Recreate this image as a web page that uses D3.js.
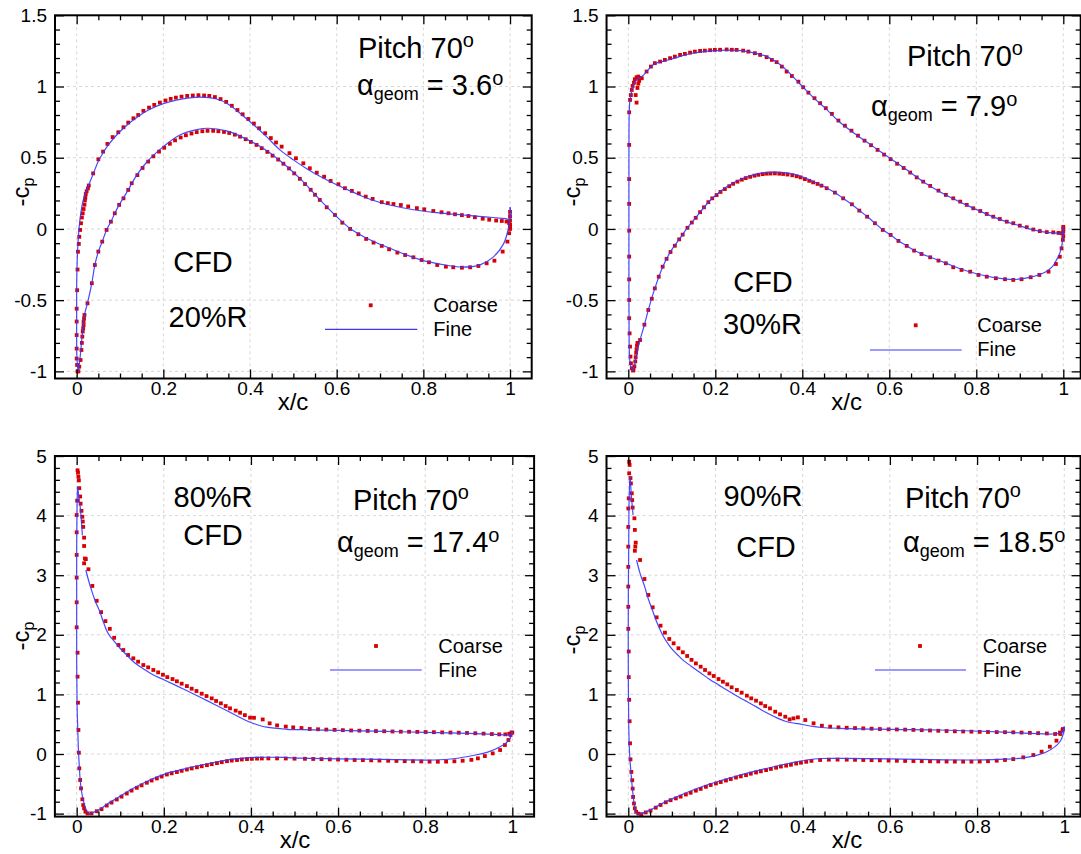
<!DOCTYPE html>
<html><head><meta charset="utf-8">
<script src="https://cdn.jsdelivr.net/npm/d3@7"></script>
<style>
body{margin:0;background:#fff}
svg{display:block}
text{font-family:"Liberation Sans",Arial,Helvetica,sans-serif;fill:#000;white-space:pre}
</style>
</head><body>
<svg id="chart" width="1081" height="854"></svg>
<script>
// ---------- tick values / labels ----------
const xMajorTicks = [0, 0.2, 0.4, 0.6, 0.8, 1];
const yMajorTop = [-1, -0.5, 0, 0.5, 1, 1.5];
const yMajorBottom = [-1, 0, 1, 2, 3, 4, 5];
const radiusLabels = ["20%R", "30%R", "80%R", "90%R"];
const pitchLabel = "Pitch 70";
const alphaValues = ["3.6", "7.9", "17.4", "18.5"];
const seriesNames = ["Coarse", "Fine"];

// ---------- Panel 1 : 20%R ----------
const p1FineUpper = [[0.004,-1.0],[0.001,-0.93],[0.0,-0.8],[0.0,-0.6],[0.0,-0.4],[0.001,-0.25],[0.003,-0.1],[0.006,0.02],[0.01,0.12],[0.015,0.2],[0.021,0.255],[0.028,0.31],[0.038,0.385],[0.05,0.475],[0.061,0.535],[0.073,0.59],[0.096,0.672],[0.119,0.737],[0.142,0.79],[0.169,0.84],[0.2,0.88],[0.23,0.905],[0.26,0.92],[0.285,0.925],[0.31,0.92],[0.33,0.905],[0.346,0.883],[0.36,0.855],[0.377,0.812],[0.408,0.732],[0.438,0.648],[0.469,0.555],[0.5,0.485],[0.53,0.425],[0.56,0.372],[0.6,0.31],[0.64,0.255],[0.68,0.205],[0.72,0.17],[0.777,0.135],[0.83,0.115],[0.892,0.098],[0.95,0.083],[0.99,0.072],[1.0,0.07],[1.0,0.155]];
const p1FineLower = [[0.004,-1.0],[0.008,-0.9],[0.014,-0.71],[0.019,-0.59],[0.025,-0.52],[0.035,-0.38],[0.042,-0.253],[0.05,-0.16],[0.059,-0.089],[0.069,-0.007],[0.079,0.051],[0.088,0.11],[0.098,0.169],[0.108,0.218],[0.119,0.274],[0.135,0.36],[0.162,0.47],[0.2,0.578],[0.238,0.66],[0.277,0.697],[0.304,0.707],[0.346,0.688],[0.377,0.652],[0.423,0.58],[0.465,0.49],[0.515,0.355],[0.561,0.206],[0.596,0.098],[0.631,0.003],[0.669,-0.065],[0.723,-0.136],[0.792,-0.215],[0.854,-0.255],[0.889,-0.268],[0.931,-0.252],[0.961,-0.198],[0.985,-0.105],[0.996,0.0],[1.0,0.075],[1.0,0.15]];
const p1CoarseUpper = [[0.002,-1.0],[0.001,-0.955],[0.0,-0.91],[0.0,-0.84],[0.0,-0.745],[0.0,-0.65],[0.0,-0.56],[0.001,-0.43],[0.002,-0.285],[0.003,-0.16],[0.005,-0.105],[0.006,-0.055],[0.008,-0.007],[0.01,0.04],[0.012,0.08],[0.014,0.11],[0.016,0.14],[0.018,0.17],[0.019,0.2],[0.02,0.22],[0.021,0.245],[0.023,0.265],[0.026,0.285],[0.028,0.305],[0.038,0.39],[0.05,0.489],[0.061,0.543],[0.071,0.597],[0.083,0.645],[0.096,0.679],[0.108,0.714],[0.119,0.747],[0.131,0.777],[0.142,0.8],[0.154,0.829],[0.167,0.852],[0.179,0.871],[0.192,0.887],[0.205,0.902],[0.217,0.913],[0.229,0.922],[0.242,0.929],[0.255,0.934],[0.268,0.937],[0.281,0.939],[0.294,0.937],[0.306,0.934],[0.319,0.926],[0.332,0.912],[0.345,0.892],[0.358,0.865],[0.371,0.835],[0.383,0.805],[0.396,0.772],[0.409,0.74],[0.421,0.707],[0.435,0.672],[0.448,0.638],[0.46,0.607],[0.473,0.578],[0.491,0.532],[0.506,0.496],[0.523,0.461],[0.538,0.426],[0.554,0.395],[0.571,0.367],[0.586,0.337],[0.604,0.314],[0.619,0.286],[0.635,0.267],[0.651,0.25],[0.667,0.227],[0.683,0.211],[0.704,0.188],[0.718,0.181],[0.731,0.175],[0.748,0.168],[0.765,0.158],[0.785,0.146],[0.802,0.138],[0.823,0.126],[0.842,0.117],[0.858,0.11],[0.873,0.103],[0.889,0.097],[0.904,0.091],[0.919,0.082],[0.937,0.072],[0.952,0.065],[0.968,0.059],[0.981,0.056],[0.992,0.052],[0.998,0.04],[1.0,0.03],[1.0,0.015],[1.0,0.0],[1.0,0.06],[1.0,0.09],[1.0,0.12]];
const p1CoarseLower = [[0.004,-1.0],[0.006,-0.967],[0.009,-0.92],[0.011,-0.85],[0.012,-0.8],[0.013,-0.756],[0.014,-0.72],[0.015,-0.698],[0.016,-0.675],[0.016,-0.651],[0.017,-0.628],[0.018,-0.604],[0.025,-0.522],[0.035,-0.381],[0.042,-0.253],[0.05,-0.159],[0.059,-0.089],[0.069,-0.007],[0.079,0.051],[0.088,0.11],[0.098,0.169],[0.108,0.215],[0.119,0.274],[0.127,0.321],[0.14,0.378],[0.152,0.428],[0.165,0.473],[0.177,0.51],[0.19,0.543],[0.202,0.57],[0.215,0.598],[0.227,0.622],[0.24,0.642],[0.252,0.658],[0.265,0.67],[0.277,0.68],[0.29,0.686],[0.302,0.689],[0.315,0.689],[0.327,0.686],[0.34,0.681],[0.352,0.674],[0.365,0.662],[0.377,0.648],[0.39,0.63],[0.402,0.611],[0.415,0.59],[0.427,0.567],[0.44,0.541],[0.452,0.515],[0.465,0.487],[0.477,0.458],[0.49,0.425],[0.502,0.39],[0.515,0.352],[0.527,0.315],[0.54,0.275],[0.55,0.24],[0.561,0.204],[0.577,0.152],[0.596,0.098],[0.613,0.044],[0.631,0.0],[0.65,-0.037],[0.668,-0.07],[0.685,-0.096],[0.704,-0.119],[0.721,-0.143],[0.74,-0.166],[0.758,-0.183],[0.777,-0.199],[0.796,-0.218],[0.813,-0.234],[0.832,-0.253],[0.852,-0.265],[0.869,-0.269],[0.889,-0.272],[0.908,-0.269],[0.927,-0.26],[0.946,-0.241],[0.964,-0.223],[0.983,-0.159],[0.994,-0.089],[0.998,-0.03],[1.0,0.028]];

// ---------- Panel 2 : 30%R ----------
const p2FineUpper = [[0.01,-0.995],[0.005,-0.96],[0.003,-0.9],[0.002,-0.8],[0.0015,-0.5],[0.0015,0.0],[0.0015,0.5],[0.002,0.8],[0.003,0.88],[0.005,0.93],[0.008,0.97],[0.012,1.01],[0.017,1.04],[0.025,1.06],[0.035,1.08],[0.042,1.105],[0.052,1.138],[0.061,1.16],[0.073,1.172],[0.096,1.19],[0.119,1.212],[0.142,1.23],[0.165,1.242],[0.188,1.25],[0.211,1.254],[0.238,1.255],[0.264,1.25],[0.291,1.235],[0.318,1.21],[0.341,1.172],[0.364,1.115],[0.383,1.055],[0.402,0.995],[0.428,0.915],[0.454,0.845],[0.483,0.758],[0.52,0.67],[0.56,0.585],[0.6,0.5],[0.64,0.415],[0.678,0.332],[0.713,0.267],[0.747,0.212],[0.778,0.167],[0.809,0.124],[0.839,0.085],[0.87,0.05],[0.9,0.022],[0.931,-0.006],[0.962,-0.024],[0.989,-0.03],[1.0,-0.03],[1.0,0.02]];
const p2FineLower = [[0.01,-0.995],[0.014,-0.96],[0.018,-0.9],[0.022,-0.84],[0.027,-0.78],[0.038,-0.662],[0.046,-0.569],[0.061,-0.417],[0.08,-0.26],[0.1,-0.145],[0.119,-0.065],[0.134,0.0],[0.157,0.086],[0.188,0.2],[0.218,0.278],[0.241,0.322],[0.272,0.365],[0.303,0.39],[0.333,0.399],[0.364,0.394],[0.395,0.372],[0.425,0.333],[0.456,0.288],[0.475,0.255],[0.494,0.215],[0.514,0.172],[0.531,0.13],[0.549,0.087],[0.567,0.041],[0.585,-0.005],[0.603,-0.042],[0.621,-0.083],[0.64,-0.118],[0.657,-0.15],[0.674,-0.175],[0.694,-0.198],[0.713,-0.22],[0.73,-0.24],[0.766,-0.283],[0.805,-0.318],[0.845,-0.343],[0.885,-0.355],[0.925,-0.338],[0.96,-0.3],[0.975,-0.265],[0.984,-0.22],[0.992,-0.17],[0.997,-0.11],[1.0,-0.01]];
const p2CoarseUpper = [[0.011,-0.994],[0.008,-0.978],[0.006,-0.943],[0.005,-0.896],[0.004,-0.826],[0.003,-0.733],[0.002,-0.627],[0.002,-0.499],[0.002,-0.354],[0.002,-0.194],[0.002,-0.012],[0.002,0.176],[0.002,0.35],[0.002,0.59],[0.002,0.819],[0.004,0.906],[0.006,0.94],[0.008,0.976],[0.01,1.004],[0.013,1.027],[0.015,1.051],[0.019,1.065],[0.023,1.07],[0.019,0.887],[0.017,0.94],[0.021,0.99],[0.023,1.02],[0.025,1.04],[0.027,1.06],[0.031,1.058],[0.042,1.105],[0.052,1.14],[0.061,1.164],[0.073,1.175],[0.084,1.187],[0.096,1.199],[0.107,1.21],[0.119,1.222],[0.13,1.229],[0.142,1.238],[0.153,1.245],[0.165,1.25],[0.176,1.252],[0.188,1.255],[0.199,1.257],[0.211,1.258],[0.226,1.26],[0.238,1.258],[0.249,1.257],[0.264,1.252],[0.276,1.245],[0.291,1.234],[0.303,1.222],[0.318,1.206],[0.33,1.187],[0.341,1.171],[0.353,1.14],[0.364,1.105],[0.376,1.074],[0.391,1.034],[0.402,0.995],[0.414,0.957],[0.428,0.918],[0.441,0.883],[0.454,0.848],[0.468,0.808],[0.483,0.761],[0.498,0.725],[0.513,0.69],[0.528,0.655],[0.543,0.62],[0.558,0.588],[0.573,0.555],[0.588,0.522],[0.603,0.49],[0.618,0.458],[0.633,0.428],[0.648,0.396],[0.663,0.362],[0.678,0.332],[0.694,0.302],[0.713,0.269],[0.73,0.239],[0.747,0.215],[0.763,0.192],[0.778,0.169],[0.793,0.145],[0.809,0.126],[0.824,0.105],[0.839,0.086],[0.854,0.07],[0.87,0.051],[0.885,0.04],[0.9,0.023],[0.916,0.012],[0.931,-0.004],[0.946,-0.015],[0.962,-0.022],[0.977,-0.024],[0.989,-0.028],[0.997,-0.03],[1.0,-0.05],[1.0,-0.02],[1.0,0.0],[1.0,0.015]];
const p2CoarseLower = [[0.012,-0.99],[0.014,-0.965],[0.016,-0.93],[0.017,-0.9],[0.018,-0.87],[0.019,-0.845],[0.02,-0.82],[0.021,-0.8],[0.027,-0.78],[0.037,-0.672],[0.046,-0.569],[0.054,-0.49],[0.061,-0.417],[0.07,-0.335],[0.079,-0.265],[0.088,-0.21],[0.097,-0.162],[0.107,-0.118],[0.117,-0.073],[0.125,-0.04],[0.136,0.008],[0.146,0.045],[0.155,0.078],[0.165,0.118],[0.174,0.152],[0.184,0.188],[0.193,0.215],[0.203,0.238],[0.212,0.26],[0.222,0.28],[0.232,0.3],[0.241,0.317],[0.251,0.332],[0.261,0.346],[0.27,0.357],[0.28,0.366],[0.29,0.374],[0.299,0.38],[0.309,0.385],[0.318,0.388],[0.327,0.389],[0.337,0.39],[0.347,0.388],[0.356,0.386],[0.366,0.382],[0.377,0.377],[0.387,0.37],[0.396,0.362],[0.406,0.35],[0.416,0.338],[0.425,0.327],[0.435,0.316],[0.444,0.304],[0.456,0.286],[0.475,0.255],[0.494,0.215],[0.514,0.173],[0.531,0.129],[0.549,0.086],[0.567,0.04],[0.585,-0.007],[0.603,-0.042],[0.621,-0.084],[0.64,-0.119],[0.657,-0.152],[0.674,-0.176],[0.694,-0.199],[0.713,-0.222],[0.73,-0.241],[0.747,-0.269],[0.766,-0.288],[0.786,-0.3],[0.805,-0.323],[0.824,-0.335],[0.845,-0.346],[0.866,-0.353],[0.885,-0.358],[0.904,-0.353],[0.925,-0.339],[0.945,-0.323],[0.966,-0.3],[0.983,-0.246],[0.992,-0.195],[0.996,-0.136],[0.999,-0.077]];

// ---------- Panel 3 : 80%R ----------
const p3FineUpper = [[0.002,4.485],[0.005,4.32],[0.008,4.15],[0.011,3.9],[0.013,3.67],null,[0.021,3.087],[0.027,2.92],[0.034,2.75],[0.043,2.56],[0.053,2.39],[0.061,2.22],[0.069,2.07],[0.076,1.98],[0.084,1.91],[0.1,1.77],[0.115,1.66],[0.133,1.53],[0.153,1.43],[0.175,1.33],[0.199,1.25],[0.245,1.09],[0.298,0.9],[0.352,0.7],[0.394,0.545],[0.405,0.515],[0.436,0.45],[0.482,0.415],[0.513,0.408],[0.6,0.395],[0.742,0.374],[0.9,0.345],[0.96,0.33],[0.987,0.32],[0.998,0.33],[1.0,0.37]];
const p3FineLower = [[0.002,4.485],[0.001,4.2],[0.0,3.5],[0.0,2.5],[0.0,1.5],[0.001,0.8],[0.003,0.3],[0.004,0.067],[0.006,-0.2],[0.008,-0.436],[0.011,-0.62],[0.015,-0.772],[0.019,-0.88],[0.024,-0.968],[0.029,-1.005],[0.035,-0.99],[0.053,-0.928],[0.07,-0.84],[0.092,-0.743],[0.13,-0.576],[0.168,-0.436],[0.207,-0.324],[0.253,-0.24],[0.298,-0.168],[0.344,-0.101],[0.39,-0.065],[0.421,-0.055],[0.474,-0.058],[0.513,-0.07],[0.6,-0.08],[0.7,-0.09],[0.82,-0.1],[0.87,-0.075],[0.91,-0.025],[0.945,0.035],[0.972,0.123],[0.988,0.2],[0.995,0.263],[1.0,0.374]];
const p3CoarseUpper = [[0.002,4.76],[0.003,4.72],[0.004,4.65],[0.005,4.59],[0.006,4.46],[0.008,4.32],[0.009,4.2],[0.011,4.08],[0.013,3.98],[0.014,3.9],[0.015,3.81],[0.017,3.63],[0.017,3.49],[0.019,3.28],[0.021,3.27],[0.017,3.2],[0.027,3.1],[0.036,2.82],[0.046,2.57],[0.056,2.38],[0.066,2.23],[0.076,2.1],[0.086,1.95],[0.096,1.829],[0.107,1.745],[0.118,1.661],[0.13,1.606],[0.141,1.549],[0.153,1.493],[0.164,1.454],[0.176,1.41],[0.187,1.37],[0.198,1.33],[0.208,1.29],[0.22,1.258],[0.23,1.22],[0.241,1.18],[0.253,1.14],[0.264,1.096],[0.275,1.057],[0.287,1.012],[0.298,0.973],[0.31,0.934],[0.32,0.89],[0.331,0.85],[0.342,0.805],[0.352,0.766],[0.365,0.728],[0.375,0.693],[0.386,0.652],[0.398,0.61],[0.407,0.608],[0.427,0.58],[0.443,0.515],[0.46,0.48],[0.48,0.46],[0.497,0.447],[0.516,0.436],[0.535,0.42],[0.554,0.415],[0.573,0.41],[0.592,0.405],[0.611,0.4],[0.63,0.395],[0.649,0.392],[0.668,0.388],[0.687,0.385],[0.706,0.382],[0.725,0.378],[0.744,0.375],[0.763,0.373],[0.782,0.371],[0.801,0.369],[0.82,0.366],[0.839,0.363],[0.858,0.36],[0.877,0.357],[0.896,0.353],[0.915,0.348],[0.934,0.342],[0.953,0.335],[0.97,0.33],[0.984,0.33],[0.993,0.34],[0.998,0.36]];
const p3CoarseLower = [[0.001,4.25],[0.0,4.01],[0.0,3.72],[0.0,3.34],[0.0,2.96],[0.0,2.545],[0.0,2.126],[0.002,1.7],[0.002,1.298],[0.003,0.861],[0.004,0.403],[0.005,0.022],[0.006,-0.24],[0.008,-0.436],[0.01,-0.576],[0.013,-0.76],[0.015,-0.856],[0.017,-0.911],[0.02,-0.968],[0.025,-0.996],[0.034,-0.996],[0.046,-0.96],[0.057,-0.925],[0.069,-0.865],[0.08,-0.815],[0.092,-0.763],[0.103,-0.715],[0.115,-0.663],[0.126,-0.614],[0.138,-0.567],[0.149,-0.526],[0.161,-0.482],[0.172,-0.445],[0.184,-0.41],[0.195,-0.378],[0.207,-0.344],[0.218,-0.324],[0.23,-0.302],[0.241,-0.282],[0.253,-0.26],[0.264,-0.242],[0.276,-0.223],[0.287,-0.205],[0.299,-0.187],[0.31,-0.17],[0.322,-0.153],[0.333,-0.137],[0.345,-0.12],[0.356,-0.11],[0.368,-0.101],[0.379,-0.092],[0.391,-0.085],[0.402,-0.081],[0.414,-0.077],[0.425,-0.075],[0.44,-0.074],[0.46,-0.074],[0.48,-0.075],[0.5,-0.078],[0.524,-0.08],[0.543,-0.083],[0.562,-0.086],[0.581,-0.09],[0.6,-0.093],[0.619,-0.096],[0.638,-0.1],[0.657,-0.103],[0.676,-0.106],[0.695,-0.11],[0.715,-0.113],[0.734,-0.116],[0.753,-0.12],[0.772,-0.122],[0.791,-0.125],[0.81,-0.128],[0.829,-0.129],[0.848,-0.127],[0.867,-0.122],[0.886,-0.113],[0.906,-0.098],[0.921,-0.073],[0.937,-0.034],[0.955,0.011],[0.972,0.067],[0.983,0.151],[0.991,0.235],[0.996,0.319],[1.0,0.36]];

// ---------- Panel 4 : 90%R ----------
const p4FineUpper = [[0.004,4.65],[0.006,4.45],[0.008,4.25],[0.011,4.01],null,[0.019,3.255],[0.027,3.03],[0.037,2.82],[0.046,2.6],[0.056,2.4],[0.065,2.22],[0.074,2.07],[0.084,1.93],[0.094,1.82],[0.104,1.73],[0.115,1.65],[0.125,1.58],[0.145,1.47],[0.166,1.36],[0.186,1.255],[0.207,1.16],[0.227,1.07],[0.249,0.975],[0.272,0.88],[0.293,0.795],[0.314,0.705],[0.337,0.62],[0.36,0.55],[0.378,0.52],[0.39,0.51],[0.417,0.47],[0.444,0.445],[0.486,0.431],[0.6,0.415],[0.715,0.403],[0.85,0.37],[0.975,0.336],[0.995,0.36],[1.0,0.459]];
const p4FineLower = [[0.004,4.65],[0.002,4.3],[0.001,3.5],[0.0,2.5],[0.0,1.5],[0.001,0.5],[0.003,0.0],[0.006,-0.3],[0.009,-0.55],[0.012,-0.75],[0.015,-0.9],[0.019,-1.0],[0.025,-1.01],[0.05,-0.94],[0.075,-0.84],[0.103,-0.744],[0.14,-0.63],[0.18,-0.52],[0.22,-0.43],[0.256,-0.352],[0.295,-0.28],[0.333,-0.213],[0.37,-0.155],[0.409,-0.1],[0.447,-0.075],[0.486,-0.072],[0.6,-0.08],[0.791,-0.1],[0.85,-0.09],[0.906,-0.065],[0.96,0.039],[0.99,0.206],[0.999,0.374],[1.0,0.46]];
const p4CoarseUpper = [[0.002,4.905],[0.003,4.85],[0.002,4.71],[0.005,4.63],[0.006,4.54],[0.008,4.374],[0.009,4.26],[0.01,4.135],[0.014,3.955],[0.015,3.76],[0.017,3.546],[0.016,3.48],[0.015,3.41],[0.027,3.255],[0.037,2.936],[0.046,2.668],[0.056,2.461],[0.065,2.293],[0.074,2.153],[0.084,2.036],[0.094,1.93],[0.104,1.857],[0.115,1.774],[0.125,1.707],[0.135,1.645],[0.145,1.58],[0.155,1.52],[0.166,1.465],[0.176,1.41],[0.186,1.353],[0.196,1.309],[0.207,1.258],[0.217,1.213],[0.227,1.169],[0.237,1.119],[0.249,1.074],[0.26,1.029],[0.272,0.979],[0.282,0.934],[0.293,0.895],[0.304,0.85],[0.314,0.805],[0.325,0.766],[0.337,0.71],[0.348,0.666],[0.36,0.626],[0.37,0.581],[0.379,0.598],[0.389,0.615],[0.406,0.57],[0.425,0.515],[0.444,0.475],[0.463,0.459],[0.482,0.447],[0.501,0.441],[0.52,0.435],[0.539,0.43],[0.558,0.425],[0.577,0.419],[0.597,0.414],[0.616,0.412],[0.635,0.409],[0.654,0.405],[0.673,0.4],[0.692,0.395],[0.711,0.39],[0.73,0.386],[0.749,0.381],[0.768,0.378],[0.787,0.375],[0.806,0.372],[0.825,0.37],[0.845,0.368],[0.864,0.366],[0.883,0.364],[0.902,0.36],[0.921,0.355],[0.94,0.35],[0.96,0.345],[0.979,0.336],[0.99,0.36],[0.997,0.42]];
const p4CoarseLower = [[0.001,4.29],[0.0,4.12],[0.0,3.81],[0.0,3.48],[0.0,3.14],[0.0,2.81],[0.0,2.47],[0.0,2.1],[0.001,1.72],[0.001,1.29],[0.002,0.91],[0.003,0.55],[0.004,0.18],[0.005,-0.09],[0.007,-0.3],[0.009,-0.44],[0.01,-0.58],[0.011,-0.72],[0.013,-0.83],[0.015,-0.91],[0.018,-0.97],[0.023,-1.0],[0.03,-1.01],[0.04,-0.98],[0.051,-0.95],[0.063,-0.9],[0.074,-0.855],[0.086,-0.81],[0.097,-0.775],[0.109,-0.745],[0.12,-0.715],[0.132,-0.68],[0.143,-0.65],[0.155,-0.615],[0.166,-0.585],[0.178,-0.55],[0.189,-0.52],[0.201,-0.495],[0.212,-0.47],[0.224,-0.445],[0.235,-0.42],[0.247,-0.395],[0.258,-0.375],[0.27,-0.355],[0.281,-0.33],[0.293,-0.31],[0.304,-0.29],[0.316,-0.27],[0.327,-0.25],[0.339,-0.23],[0.35,-0.21],[0.362,-0.195],[0.373,-0.18],[0.385,-0.16],[0.396,-0.145],[0.408,-0.13],[0.42,-0.115],[0.44,-0.1],[0.46,-0.095],[0.48,-0.094],[0.501,-0.095],[0.52,-0.097],[0.539,-0.1],[0.558,-0.103],[0.577,-0.106],[0.597,-0.11],[0.616,-0.113],[0.635,-0.116],[0.654,-0.118],[0.673,-0.12],[0.692,-0.122],[0.711,-0.124],[0.73,-0.126],[0.749,-0.127],[0.768,-0.128],[0.787,-0.128],[0.806,-0.126],[0.825,-0.12],[0.845,-0.112],[0.864,-0.1],[0.883,-0.085],[0.906,-0.056],[0.929,-0.017],[0.948,0.039],[0.967,0.123],[0.982,0.224],[0.991,0.336],[0.996,0.403]];

// ---------- layout (positions only) ----------
const FONT = '"Liberation Sans",Arial,Helvetica,sans-serif';
const RED = "#d90000", BLUE = "#3838ff";
const panels = [
  { fine:[p1FineUpper,p1FineLower], coarse:[p1CoarseUpper,p1CoarseLower],
    xd:[-0.05,1.05], xr:[55,531.7], yd:[-1.05,1.5], yr:[378.5,15.3], yMaj:yMajorTop, yMinStep:0.1,
    pitch:[358,58], alpha:[357,95], cfd:[203,271.7], rad:[208,326.7],
    leg:{mx:370.7,my:305.3,tx:433.3,ty1:311.7,l1:325,l2:417.3,ly:329.3,ty2:336},
    xlab:[293,410], ylab:[29,192] },
  { fine:[p2FineUpper,p2FineLower], coarse:[p2CoarseUpper,p2CoarseLower],
    xd:[-0.05,1.04], xr:[606.55,1080.7], yd:[-1.05,1.5], yr:[378.5,15.3], yMaj:yMajorTop, yMinStep:0.1,
    pitch:[907,66], alpha:[871,116], cfd:[763,291.7], rad:[762.5,334.3],
    leg:{mx:915.7,my:325.3,tx:977.3,ty1:331.7,l1:870,l2:961.7,ly:350,ty2:356},
    xlab:[846.7,410], ylab:[580,192] },
  { fine:[p3FineUpper,p3FineLower], coarse:[p3CoarseUpper,p3CoarseLower],
    xd:[-0.05,1.05], xr:[54.9,534.1], yd:[-1.05,5], yr:[816.6,456], yMaj:yMajorBottom, yMinStep:0.2,
    pitch:[353,510], alpha:[337,551.7], cfd:[213,545], rad:[213,506.7],
    leg:{mx:376,my:646,tx:438.3,ty1:652.7,l1:330,l2:421.7,ly:670,ty2:676.7},
    xlab:[295,848], ylab:[29,636] },
  { fine:[p4FineUpper,p4FineLower], coarse:[p4CoarseUpper,p4CoarseLower],
    xd:[-0.05,1.0372], xr:[606.5,1080.5], yd:[-1.05,5], yr:[816.6,456], yMaj:yMajorBottom, yMinStep:0.2,
    pitch:[905,508.3], alpha:[903,551.7], cfd:[766,556.7], rad:[763,506],
    leg:{mx:920,my:646,tx:982.7,ty1:652.7,l1:875,l2:966,ly:670,ty2:676.7},
    xlab:[847,848], ylab:[580,640] }
];

const svg = d3.select("#chart");
svg.append("rect").attr("width",1081).attr("height",854).attr("fill","#fff");

function styleAxis(sel, fs){
  sel.select(".domain").remove();
  sel.attr("font-family", FONT).attr("font-size", fs);
  sel.selectAll(".tick line").attr("stroke","#000").attr("stroke-width",1.3);
  sel.selectAll(".tick text").attr("fill","#000");
}

panels.forEach((p, i) => {
  const g = svg.append("g");
  const x = d3.scaleLinear().domain(p.xd).range(p.xr);
  const y = d3.scaleLinear().domain(p.yd).range(p.yr);
  const L = p.xr[0], R = p.xr[1], B = p.yr[0], T = p.yr[1];

  const xMinor = d3.range(0.05, 1.0001, 0.05).filter(v => !xMajorTicks.some(m => Math.abs(m - v) < 1e-6));
  const yMinor = d3.range(p.yMaj[0], p.yMaj[p.yMaj.length-1] + 1e-6, p.yMinStep)
                   .filter(v => !p.yMaj.some(m => Math.abs(m - v) < 1e-6));

  // grid
  const grid = g.append("g").attr("stroke","#d2d2d2").attr("stroke-width",0.9).attr("stroke-dasharray","3,3");
  grid.selectAll(".gx").data(xMajorTicks).join("line")
    .attr("x1", d => x(d)).attr("x2", d => x(d)).attr("y1", T).attr("y2", B);
  grid.selectAll(".gy").data(p.yMaj).join("line")
    .attr("y1", d => y(d)).attr("y2", d => y(d)).attr("x1", L).attr("x2", R);

  // coarse markers
  const allCoarse = p.coarse[0].concat(p.coarse[1]);
  g.append("g").selectAll("rect").data(allCoarse).join("rect")
    .attr("x", d => x(d[0]) - 1.9).attr("y", d => y(d[1]) - 1.9)
    .attr("width", 3.8).attr("height", 3.8).attr("fill", RED);

  // fine lines
  const line = d3.line().defined(d => d !== null)
    .x(d => x(d[0])).y(d => y(d[1])).curve(d3.curveCatmullRom.alpha(0.5));
  g.append("g").selectAll("path").data(p.fine).join("path")
    .attr("d", line).attr("fill","none").attr("stroke", BLUE).attr("stroke-width",1.2).attr("opacity",0.92);

  // axes (ticks inward)
  const ax = g.append("g");
  ax.append("g").attr("transform",`translate(0,${B})`)
    .call(d3.axisBottom(x).tickValues(xMajorTicks).tickSize(-9).tickPadding(3).tickFormat(d => String(d)))
    .call(s => styleAxis(s, 19));
  ax.append("g").attr("transform",`translate(0,${B})`)
    .call(d3.axisBottom(x).tickValues(xMinor).tickSize(-5).tickFormat(""))
    .call(s => styleAxis(s, 19));
  ax.append("g").attr("transform",`translate(0,${T})`)
    .call(d3.axisTop(x).tickValues(xMajorTicks).tickSize(-9).tickFormat(""))
    .call(s => styleAxis(s, 19));
  ax.append("g").attr("transform",`translate(0,${T})`)
    .call(d3.axisTop(x).tickValues(xMinor).tickSize(-5).tickFormat(""))
    .call(s => styleAxis(s, 19));
  ax.append("g").attr("transform",`translate(${L},0)`)
    .call(d3.axisLeft(y).tickValues(p.yMaj).tickSize(-9).tickPadding(8).tickFormat(d => String(d)))
    .call(s => styleAxis(s, 19));
  ax.append("g").attr("transform",`translate(${L},0)`)
    .call(d3.axisLeft(y).tickValues(yMinor).tickSize(-5).tickFormat(""))
    .call(s => styleAxis(s, 19));
  ax.append("g").attr("transform",`translate(${R},0)`)
    .call(d3.axisRight(y).tickValues(p.yMaj).tickSize(-9).tickFormat(""))
    .call(s => styleAxis(s, 19));
  ax.append("g").attr("transform",`translate(${R},0)`)
    .call(d3.axisRight(y).tickValues(yMinor).tickSize(-5).tickFormat(""))
    .call(s => styleAxis(s, 19));

  // frame
  g.append("rect").attr("x", L).attr("y", T).attr("width", R - L).attr("height", B - T)
    .attr("fill","none").attr("stroke","#000").attr("stroke-width",2);

  // axis titles
  g.append("text").attr("x", p.xlab[0]).attr("y", p.xlab[1]).attr("text-anchor","middle")
    .attr("font-size",24).text("x/c");
  const yl = g.append("text").attr("transform",`translate(${p.ylab[0]},${p.ylab[1]}) rotate(-90)`)
    .attr("text-anchor","middle").attr("font-size",24);
  yl.append("tspan").text("-c");
  yl.append("tspan").attr("font-size",16).attr("dy",5).text("p");

  // annotations
  const pt = g.append("text").attr("x", p.pitch[0]).attr("y", p.pitch[1]).attr("font-size",29);
  pt.append("tspan").text(pitchLabel);
  pt.append("tspan").attr("font-size",20).attr("dy",-11).text("o");
  const at = g.append("text").attr("x", p.alpha[0]).attr("y", p.alpha[1]).attr("font-size",29);
  at.append("tspan").text("α");
  at.append("tspan").attr("font-size",18).attr("dy",5).text("geom");
  at.append("tspan").attr("dy",-5).text(" = " + alphaValues[i]);
  at.append("tspan").attr("font-size",20).attr("dy",-10).text("o");
  g.append("text").attr("x", p.cfd[0]).attr("y", p.cfd[1]).attr("text-anchor","middle").attr("font-size",29).text("CFD");
  g.append("text").attr("x", p.rad[0]).attr("y", p.rad[1]).attr("text-anchor","middle").attr("font-size",29).text(radiusLabels[i]);

  // legend
  const lg = p.leg;
  g.append("rect").attr("x", lg.mx - 1.9).attr("y", lg.my - 1.9).attr("width",3.8).attr("height",3.8).attr("fill",RED);
  g.append("text").attr("x", lg.tx).attr("y", lg.ty1).attr("font-size",20).text(seriesNames[0]);
  g.append("line").attr("x1", lg.l1).attr("x2", lg.l2).attr("y1", lg.ly).attr("y2", lg.ly)
    .attr("stroke", BLUE).attr("stroke-width",1.2);
  g.append("text").attr("x", lg.tx).attr("y", lg.ty2).attr("font-size",20).text(seriesNames[1]);
});
</script>
</body></html>
